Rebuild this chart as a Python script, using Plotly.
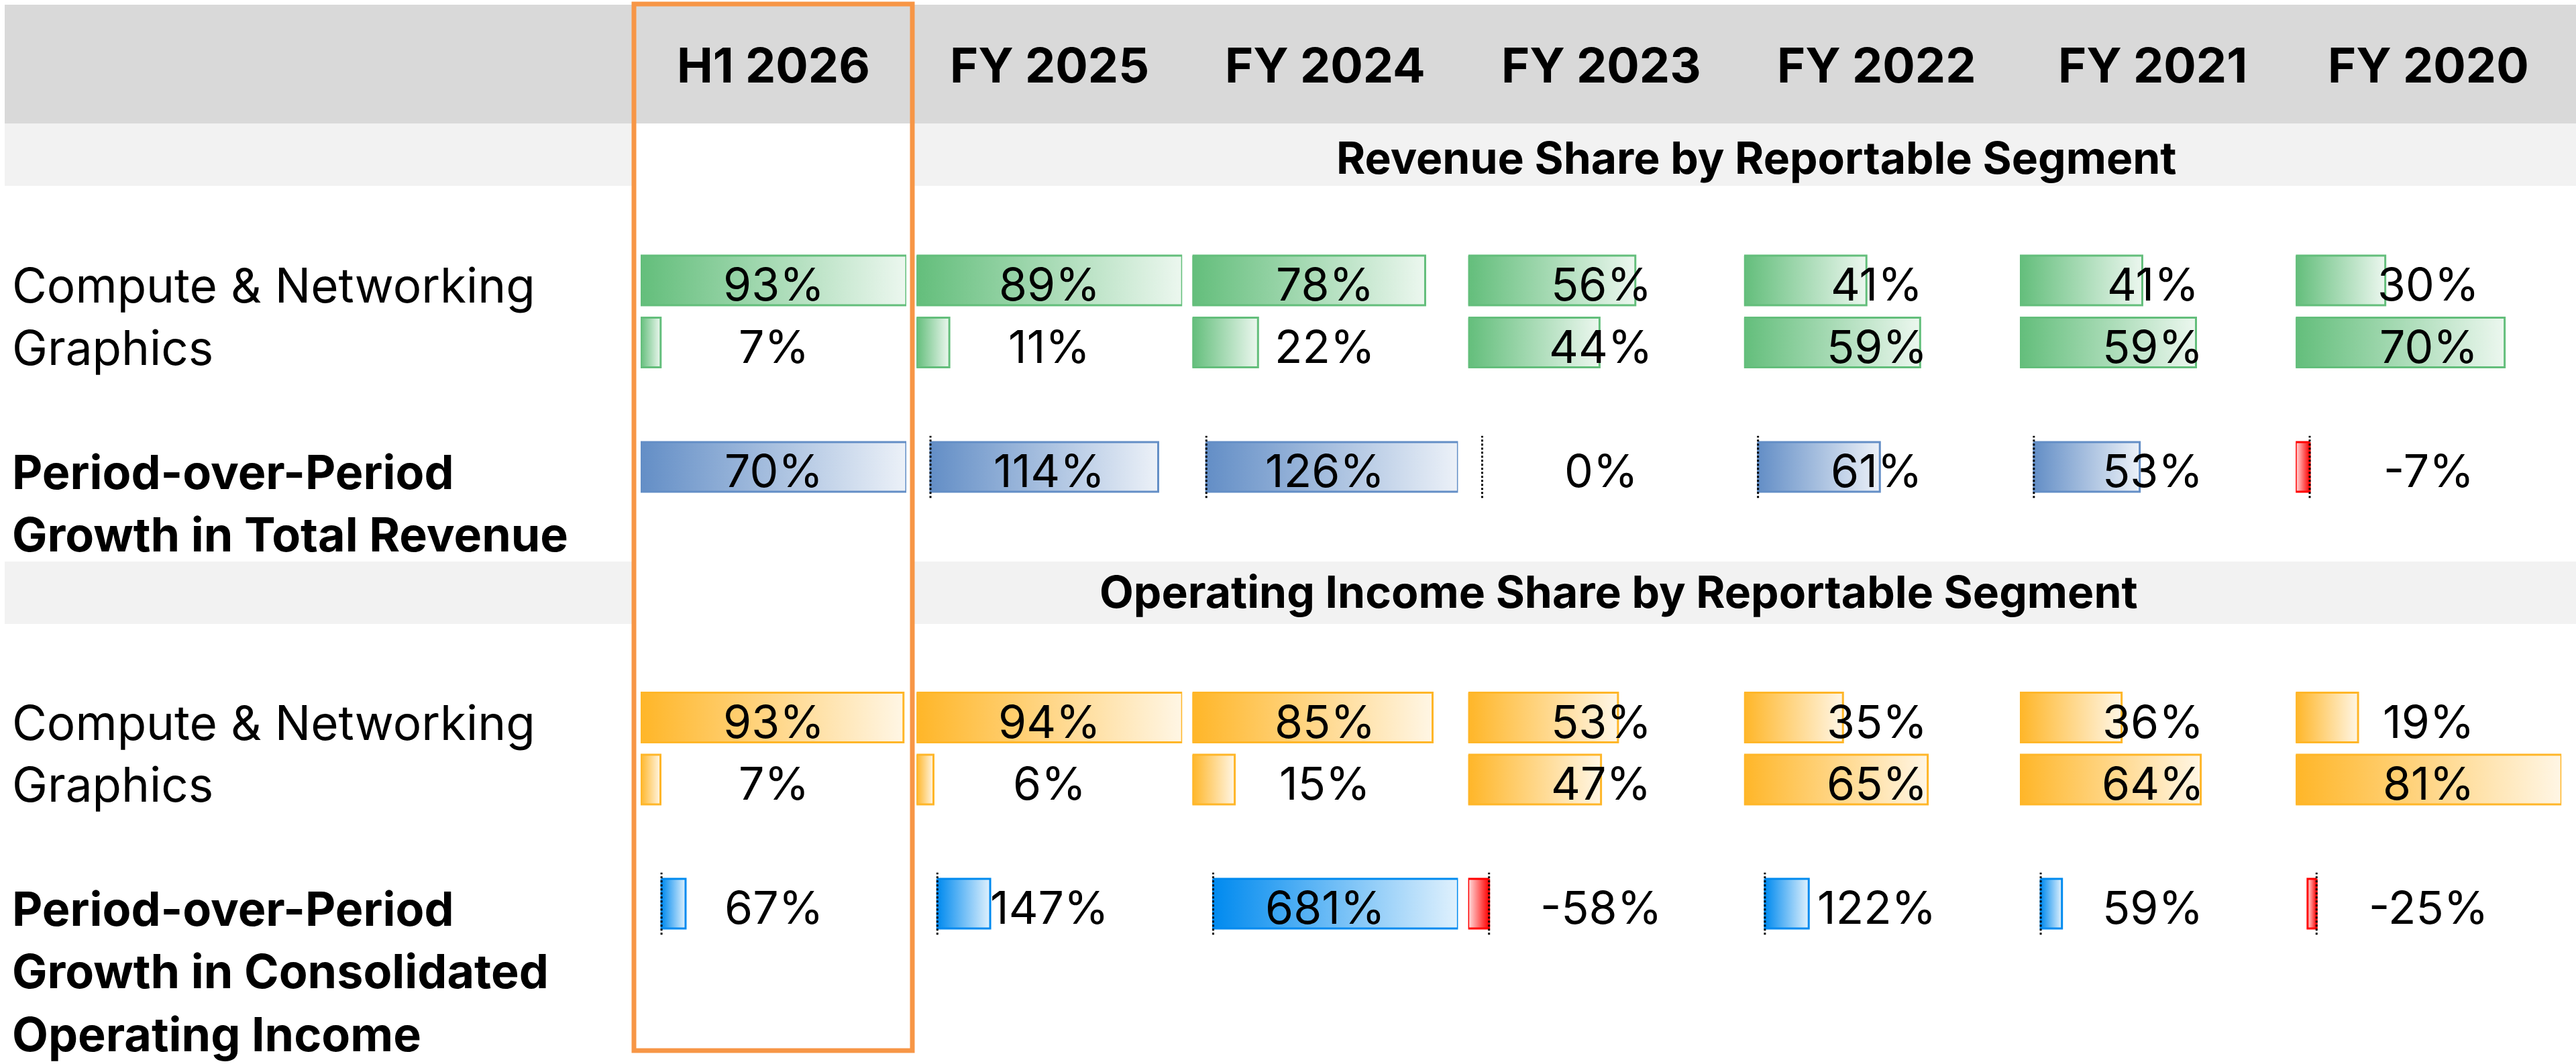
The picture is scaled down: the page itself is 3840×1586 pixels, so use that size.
import plotly.graph_objects as go

# ---------------- data ----------------
periods = ["H1 2026", "FY 2025", "FY 2024", "FY 2023", "FY 2022", "FY 2021", "FY 2020"]
segments = ["Compute & Networking", "Graphics"]

rev_share_cn = [93, 89, 78, 56, 41, 41, 30]
rev_share_gr = [7, 11, 22, 44, 59, 59, 70]
rev_growth = [70, 114, 126, 0, 61, 53, -7]

op_share_cn = [93, 94, 85, 53, 35, 36, 19]
op_share_gr = [7, 6, 15, 47, 65, 64, 81]
op_growth = [67, 147, 681, -58, 122, 59, -25]

section_titles = ["Revenue Share by Reportable Segment",
                  "Operating Income Share by Reportable Segment"]
rev_growth_label = ["Period-over-Period", "Growth in Total Revenue"]
op_growth_label = ["Period-over-Period", "Growth in Consolidated", "Operating Income"]

# columns that share one data-bar scale (as in the source spreadsheet rules)
rev_share_rules = [[0], [1, 2, 3, 4, 5, 6]]
rev_growth_rules = [[0], [1, 2, 3, 4, 5, 6]]
op_share_rules = [[0, 1, 2, 3, 4, 5], [6]]
op_growth_rules = [[0, 1, 2, 3, 4, 5, 6]]

# ---------------- layout constants (px) ----------------
W, H = 3840, 1586
COL_X0, COL_PITCH, BAR_W = 955, 411.2, 396
ROW_PITCH = 92.5
HALF = 0.4
FONT = "Inter, Roboto, Arial, sans-serif"
NEG = "#FF0000"


def mix(hex_color, t):
    h = hex_color.lstrip("#")
    r, g, b = (int(h[i:i + 2], 16) for i in (0, 2, 4))
    r, g, b = (round(v + (255 - v) * t) for v in (r, g, b))
    return f"rgb({r},{g},{b})"


groups = [
    dict(series=[rev_share_cn, rev_share_gr], color="#63BE7B", rules=rev_share_rules, yc=418),
    dict(series=[rev_growth], color="#638EC6", rules=rev_growth_rules, yc=696),
    dict(series=[op_share_cn, op_share_gr], color="#FFB628", rules=op_share_rules, yc=1069.5),
    dict(series=[op_growth], color="#008AEF", rules=op_growth_rules, yc=1347),
]

fig = go.Figure()
layout = {}
shapes = []
annotations = []

for gi, g in enumerate(groups):
    n = len(g["series"])
    yname = "y" if gi == 0 else f"y{gi + 1}"
    ykey = "yaxis" if gi == 0 else f"yaxis{gi + 1}"
    top = g["yc"] - ROW_PITCH / 2
    bot = g["yc"] + (n - 1) * ROW_PITCH + ROW_PITCH / 2
    layout[ykey] = dict(domain=[1 - bot / H, 1 - top / H], range=[n - 0.5, -0.5],
                        visible=False, fixedrange=True, anchor=f"x{gi * 7 + 1}")
    for c in range(len(periods)):
        k = gi * 7 + c + 1
        xname = "x" if k == 1 else f"x{k}"
        xkey = "xaxis" if k == 1 else f"xaxis{k}"
        rule = next(r for r in g["rules"] if c in r)
        vals = [s[cc] for s in g["series"] for cc in rule]
        lo, hi = min(0, min(vals)), max(0, max(vals))
        x0 = COL_X0 + c * COL_PITCH
        layout[xkey] = dict(domain=[x0 / W, (x0 + BAR_W) / W], range=[lo, hi],
                            visible=False, fixedrange=True, anchor=yname)
        if lo < 0:
            shapes.append(dict(type="line", xref=xname, yref=f"{yname} domain",
                               x0=0, x1=0, y0=0, y1=1, layer="above",
                               line=dict(color="black", width=3, dash="dot")))
        for r, s in enumerate(g["series"]):
            v = s[c]
            if v != 0:
                col = g["color"] if v > 0 else NEG
                light = mix(col, 0.88)
                scale = [[0, col], [1, light]] if v > 0 else [[0, light], [1, col]]
                fig.add_trace(go.Scatter(
                    x=[0, v, v, 0, 0],
                    y=[r - HALF, r - HALF, r + HALF, r + HALF, r - HALF],
                    xaxis=xname, yaxis=yname, mode="lines", fill="toself",
                    fillgradient=dict(type="horizontal", colorscale=scale),
                    line=dict(color=col, width=3), hoverinfo="skip", showlegend=False))
            annotations.append(dict(text=f"{v}%", xref=f"{xname} domain", x=0.5,
                                    xanchor="center", yanchor="middle",
                                    yref=yname, y=r, showarrow=False, yshift=-5,
                                    font=dict(family=FONT, size=68, color="black")))

# row labels
for r, name in enumerate(segments):
    for yname in ("y", "y3"):
        annotations.append(dict(text=name, xref="paper", x=16 / W, xanchor="left",
                                yanchor="middle", yref=yname, y=r, yshift=-7,
                                showarrow=False,
                                font=dict(family=FONT, size=71, color="black")))
for yname, lines in (("y2", rev_growth_label), ("y4", op_growth_label)):
    for i, line in enumerate(lines):
        annotations.append(dict(text=f"<b>{line}</b>", xref="paper", x=16 / W, xanchor="left",
                                yanchor="middle", yref=yname, y=0, yshift=-7 - 93.5 * i,
                                showarrow=False,
                                font=dict(family=FONT, size=70, color="black")))

# header
for c, p in enumerate(periods):
    annotations.append(dict(text=f"<b>{p}</b>", xref=("x" if c == 0 else f"x{c + 1}") + " domain",
                            x=0.5, xanchor="center", yanchor="middle",
                            yref="paper", y=1 - 97 / H, showarrow=False,
                            font=dict(family=FONT, size=72, color="black")))

# section titles
for t, xc, yc in zip(section_titles, (2618, 2413), (235, 882)):
    annotations.append(dict(text=f"<b>{t}</b>", xref="paper", x=xc / W, xanchor="center",
                            yanchor="middle", yref="paper", y=1 - yc / H, showarrow=False,
                            font=dict(family=FONT, size=66, color="black")))

# backgrounds
def prect(x0, x1, y0, y1, fill, layer="below", line=None):
    return dict(type="rect", xref="paper", yref="paper", x0=x0 / W, x1=x1 / W,
                y0=1 - y1 / H, y1=1 - y0 / H, fillcolor=fill, layer=layer,
                line=line or dict(width=0))

bg = [prect(7, W, 7, 184, "#D9D9D9")]
for (t, b) in ((184, 277), (837, 930)):
    bg.append(prect(7, 945, t, b, "#F2F2F2"))
    bg.append(prect(1360, W, t, b, "#F2F2F2"))
box = prect(945, 1360, 6, 1566, "rgba(0,0,0,0)", layer="above",
            line=dict(color="#F79646", width=7))

fig.update_layout(
    width=W, height=H, margin=dict(l=0, r=0, t=0, b=0),
    paper_bgcolor="white", plot_bgcolor="rgba(0,0,0,0)",
    shapes=bg + shapes + [box], annotations=annotations,
    showlegend=False, **layout)

fig.write_html("out.html", config=dict(displayModeBar=False),
               post_script="document.body.style.margin='0';")
